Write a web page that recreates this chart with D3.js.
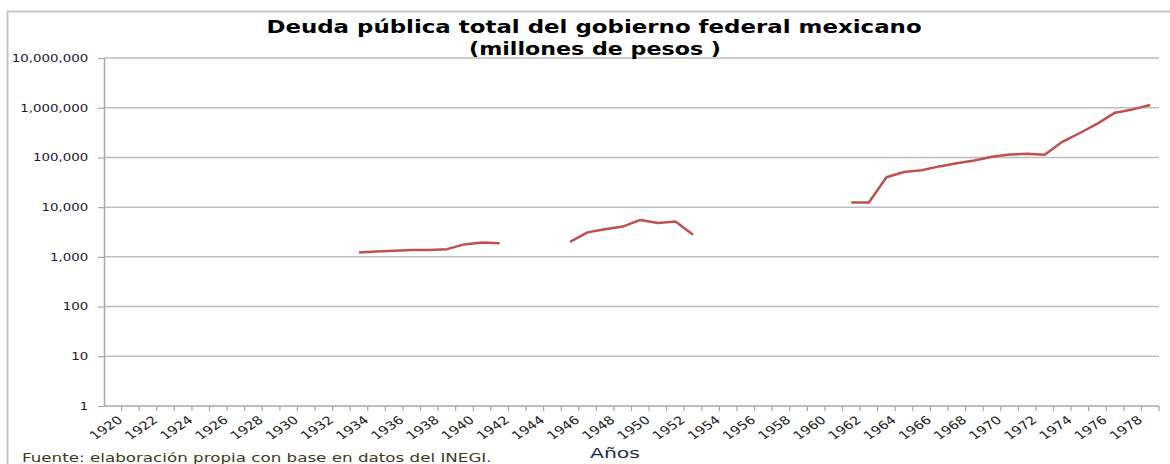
<!DOCTYPE html>
<html>
<head>
<meta charset="utf-8">
<script src="https://cdnjs.cloudflare.com/ajax/libs/d3/7.8.5/d3.min.js"></script>
<style>
  body { margin: 0; background: #fff; }
  svg { display: block; }
</style>
</head>
<body>
<div class="vis"></div>
<script>
// deuda publica total, escala logaritmica

const FRAME_WIDTH = 1170;
const FRAME_HEIGHT = 464;
const MARGINS = {left: 104, right: 11, top: 58, bottom: 58};
const VIS_WIDTH = FRAME_WIDTH - MARGINS.left - MARGINS.right;
const VIS_HEIGHT = FRAME_HEIGHT - MARGINS.top - MARGINS.bottom;

// texto horizontalmente estirado como en la imagen original
const SX = 1.27;

const YEARS = [1920, 1921, 1922, 1923, 1924, 1925, 1926, 1927, 1928, 1929,
               1930, 1931, 1932, 1933, 1934, 1935, 1936, 1937, 1938, 1939,
               1940, 1941, 1942, 1943, 1944, 1945, 1946, 1947, 1948, 1949,
               1950, 1951, 1952, 1953, 1954, 1955, 1956, 1957, 1958, 1959,
               1960, 1961, 1962, 1963, 1964, 1965, 1966, 1967, 1968, 1969,
               1970, 1971, 1972, 1973, 1974, 1975, 1976, 1977, 1978, 1979];

// millones de pesos (null = sin dato)
const DEUDA = [null, null, null, null, null, null, null, null, null, null,
               null, null, null, null, 1230, 1280, 1320, 1370, 1380, 1430,
               1780, 1950, 1870, null, null, null, 2010, 3110, 3590, 4060,
               5530, 4800, 5120, 2790, null, null, null, null, null, null,
               null, null, 12400, 12400, 39800, 50800, 55000, 66000, 76000, 87000,
               103000, 115000, 118000, 113000, 206000, 310000, 478000, 795000, 925000, 1130000];

const Y_TICKS = [1, 10, 100, 1000, 10000, 100000, 1000000, 10000000];
const X_LABELS = [1920, 1922, 1924, 1926, 1928, 1930, 1932, 1934, 1936, 1938,
                  1940, 1942, 1944, 1946, 1948, 1950, 1952, 1954, 1956, 1958,
                  1960, 1962, 1964, 1966, 1968, 1970, 1972, 1974, 1976, 1978];

const TITLE_1 = "Deuda pública total  del gobierno federal mexicano";
const TITLE_2 = "(millones de pesos )";
const SOURCE = "Fuente: elaboración propia con base en datos del INEGI.";
const X_TITLE = "Años";

const data = YEARS.map((y, i) => ({year: y, value: DEUDA[i]}));

const FRAME = d3.select('.vis')
    .append('svg')
    .attr('width', FRAME_WIDTH)
    .attr('height', FRAME_HEIGHT)
    .style('font-family', 'DejaVu Sans');

// marco del grafico
FRAME.append('rect')
    .attr('x', 7.5).attr('y', 11.5)
    .attr('width', FRAME_WIDTH - 5).attr('height', FRAME_HEIGHT)
    .attr('fill', 'none')
    .attr('stroke', '#c6c6c6')
    .attr('stroke-width', 2);

const X_SCALE = d3.scaleBand()
    .domain(YEARS)
    .range([MARGINS.left, MARGINS.left + VIS_WIDTH])
    .padding(0);

const Y_SCALE = d3.scaleLog()
    .domain([1, 10000000])
    .range([MARGINS.top + VIS_HEIGHT, MARGINS.top]);

// lineas de cuadricula
FRAME.append('g')
    .selectAll('line')
    .data(Y_TICKS.slice(1))
    .enter().append('line')
    .attr('x1', MARGINS.left)
    .attr('x2', MARGINS.left + VIS_WIDTH)
    .attr('y1', (d) => Y_SCALE(d))
    .attr('y2', (d) => Y_SCALE(d))
    .attr('stroke', '#bdbdbd')
    .attr('stroke-width', 1.5);

// eje y
const yAxis = FRAME.append('g')
    .attr('transform', 'translate(' + MARGINS.left + ',0)')
    .call(d3.axisLeft(Y_SCALE)
        .tickValues(Y_TICKS)
        .tickFormat(d3.format(','))
        .tickSize(6)
        .tickSizeOuter(0));
yAxis.select('.domain').attr('stroke', '#a8a8a8').attr('stroke-width', 1.5);
yAxis.selectAll('.tick line').attr('stroke', '#a8a8a8').attr('stroke-width', 1.2);
yAxis.selectAll('.tick text')
    .attr('x', -12.5)
    .attr('dy', '0.32em')
    .attr('transform', 'scale(' + SX + ',1)')
    .attr('font-size', '10.5px')
    .attr('font-family', 'DejaVu Sans')
    .attr('fill', '#1b1b33');

// eje x
const baseY = MARGINS.top + VIS_HEIGHT;
FRAME.append('line')
    .attr('x1', MARGINS.left).attr('x2', MARGINS.left + VIS_WIDTH)
    .attr('y1', baseY).attr('y2', baseY)
    .attr('stroke', '#a8a8a8').attr('stroke-width', 1.5);

FRAME.append('g')
    .selectAll('line')
    .data(YEARS)
    .enter().append('line')
    .attr('x1', (d) => X_SCALE(d) + X_SCALE.bandwidth())
    .attr('x2', (d) => X_SCALE(d) + X_SCALE.bandwidth())
    .attr('y1', baseY)
    .attr('y2', baseY + 5)
    .attr('stroke', '#a8a8a8')
    .attr('stroke-width', 1.2);

FRAME.append('g')
    .selectAll('text')
    .data(X_LABELS)
    .enter().append('text')
    .attr('transform', (d) => 'translate(' + (X_SCALE(d) + X_SCALE.bandwidth() / 2 + 4) + ',' + (baseY + 9) + ') scale(' + SX + ',1) rotate(-40)')
    .attr('text-anchor', 'end')
    .attr('dy', '0.72em')
    .attr('font-size', '11.5px')
    .attr('fill', '#1b1b1b')
    .text((d) => d);

// serie
const line = d3.line()
    .defined((d) => d.value !== null)
    .x((d) => X_SCALE(d.year) + X_SCALE.bandwidth() / 2)
    .y((d) => Y_SCALE(d.value));

FRAME.append('path')
    .datum(data)
    .attr('d', line)
    .attr('fill', 'none')
    .attr('stroke', '#c0504d')
    .attr('stroke-width', 2.5)
    .attr('stroke-linejoin', 'round');

// textos estirados a un ancho dado
function stretchText(x, y, str, width, size, weight, color, anchor) {
    const t = FRAME.append('text')
        .attr('font-size', size + 'px')
        .attr('font-weight', weight)
        .attr('fill', color)
        .attr('text-anchor', anchor)
        .text(str);
    const s = width / t.node().getComputedTextLength();
    t.attr('transform', 'translate(' + x + ',' + y + ') scale(' + s + ',1)');
    return t;
}

stretchText(594, 33, TITLE_1, 656, 17, 'bold', '#000', 'middle');
stretchText(595, 55, TITLE_2, 252, 17, 'bold', '#000', 'middle');
stretchText(22, 462, SOURCE, 470, 11.5, 'normal', '#3e3a22', 'start');
stretchText(590, 458, X_TITLE, 50, 13.5, 'normal', '#1f2b45', 'start');
</script>
</body>
</html>
